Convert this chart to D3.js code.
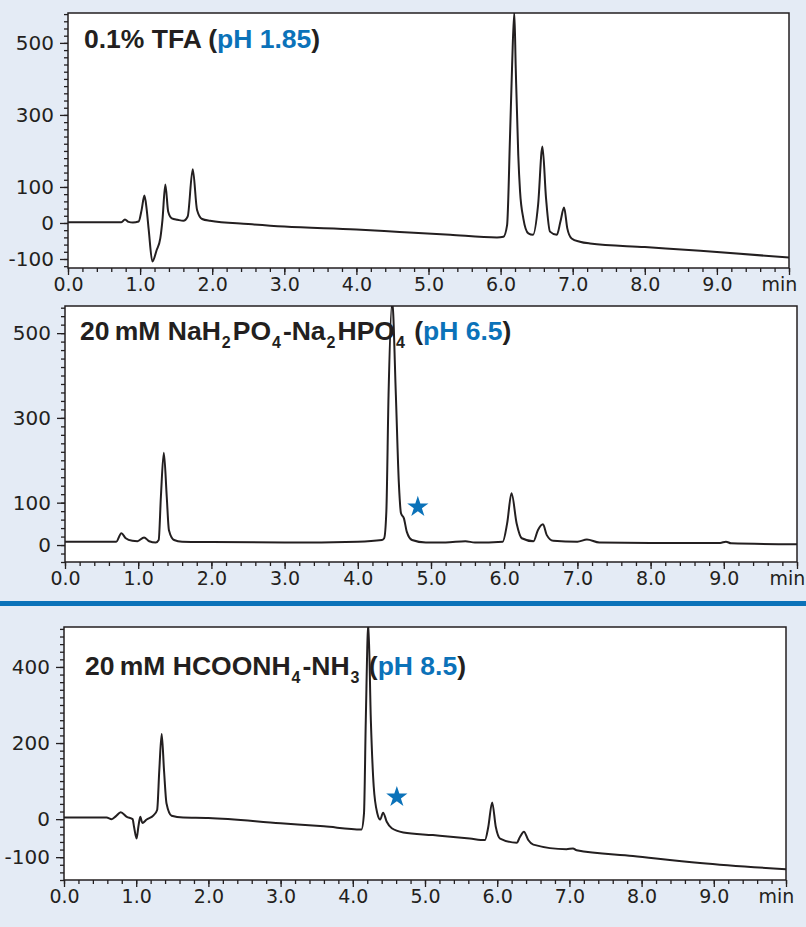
<!DOCTYPE html>
<html>
<head>
<meta charset="utf-8">
<script src="https://cdn.jsdelivr.net/npm/d3@7"></script>
<style>
  body { margin: 0; background: #e4ebf5; }
  svg { display: block; }
</style>
</head>
<body>
<div id="chart"></div>
<script>
// chromatogram traces (time in min, signal in mAU)
const tfaTime = [0, 0.5, 0.74, 0.79, 0.84, 0.90, 0.98, 1.02, 1.06, 1.09, 1.12, 1.17, 1.23, 1.28, 1.31, 1.35, 1.39, 1.44, 1.52, 1.60, 1.66, 1.73, 1.79, 1.86, 1.97, 2.5, 3.0, 4.0, 4.6, 5.3, 5.95, 6.04, 6.09, 6.13, 6.16, 6.19, 6.21, 6.245, 6.27, 6.315, 6.385, 6.45, 6.52, 6.58, 6.63, 6.685, 6.78, 6.83, 6.88, 6.925, 6.985, 7.10, 7.24, 8.0, 8.77, 10];
const tfaSignal = [2, 2, 2, 10, 3, 1, 4, 35, 76, 40, -20, -107, -75, -43, 8, 107, 31, 13, 9, 6, 18, 149, 36, 11, 6, -3, -10, -18, -25, -33, -40, -38, -6, 236, 440, 585, 430, 189, 87, 13, -29, -33, 50, 212, 69, -24, -33, 4, 43, -15, -43, -52, -57, -67, -77, -96];

const phosTime = [0, 0.70, 0.77, 0.83, 0.92, 0.99, 1.08, 1.15, 1.24, 1.28, 1.31, 1.35, 1.39, 1.42, 1.49, 1.6, 2.0, 3.0, 4.0, 4.33, 4.36, 4.39, 4.42, 4.47, 4.52, 4.56, 4.59, 4.63, 4.67, 4.74, 4.93, 5.2, 5.47, 5.6, 5.98, 6.04, 6.10, 6.17, 6.24, 6.40, 6.46, 6.53, 6.58, 6.67, 7.0, 7.13, 7.30, 8.0, 8.95, 9.03, 9.1, 10];
const phosSignal = [8, 8, 28, 16, 10, 9, 18, 9, 6, 12, 114, 218, 114, 35, 12, 8, 7, 6, 8, 12, 16, 79, 354, 575, 354, 149, 75, 63, 31, 12, 6, 6, 9, 6, 8, 51, 122, 51, 16, 9, 35, 49, 24, 10, 8, 13, 6, 5, 5, 8, 4, 2];

const formTime = [0, 0.59, 0.66, 0.72, 0.785, 0.87, 0.95, 0.97, 1.005, 1.03, 1.057, 1.085, 1.145, 1.24, 1.29, 1.32, 1.353, 1.385, 1.42, 1.49, 1.65, 2.0, 3.0, 3.6, 4.12, 4.155, 4.18, 4.215, 4.25, 4.29, 4.34, 4.38, 4.42, 4.47, 4.54, 4.70, 5.11, 5.62, 5.83, 5.877, 5.93, 5.98, 6.04, 6.27, 6.315, 6.37, 6.43, 6.50, 6.96, 7.05, 7.10, 7.88, 8.81, 10];
const formSignal = [4, 4, 0, 8, 18, 6, 0, -20, -51, -20, 6, -10, -1, 10, 24, 129, 224, 129, 41, 9, 4, 3, -11, -19, -27, 15, 260, 515, 260, 85, 15, -1, 17, -7, -24, -35, -42, -51, -55, -20, 44, -20, -51, -62, -47, -33, -55, -67, -79, -77, -82, -97, -115, -132];

// tick labels
const xTickLabels = ["0.0", "1.0", "2.0", "3.0", "4.0", "5.0", "6.0", "7.0", "8.0", "9.0", "min"];
const tfaYLabels = [500, 300, 100, 0, -100];
const phosYLabels = [500, 300, 100, 0];
const formYLabels = [400, 200, 0, -100];

// titles: [text, kind] where kind = "" normal, "sub" subscript, "ph" blue
const tfaTitle = [["0.1% TFA (", ""], ["pH 1.85", "ph"], [")", ""]];
const phosTitle = [["20\u2009mM NaH", ""], ["2", "sub"], ["PO", ""], ["4", "sub"], ["-Na", ""], ["2", "sub"], ["HPO", ""], ["4", "sub"], [" (", ""], ["pH 6.5", "ph"], [")", ""]];
const formTitle = [["20\u2009mM HCOONH", ""], ["4", "sub"], ["-NH", ""], ["3", "sub"], [" (", ""], ["pH 8.5", "ph"], [")", ""]];

// unknown-peak markers (time, signal)
const phosStar = [4.82, 90];
const formStar = [4.61, 58];

const width = 806, height = 927;
const ink = "#231f20", blue = "#0b72b9";
const tickFont = "'DejaVu Sans', sans-serif";

const panels = [
  {time: tfaTime, signal: tfaSignal, box: [68, 13, 789, 268], yDomain: [-125, 583], yLabels: tfaYLabels, title: tfaTitle, tx: 84, ty: 48, star: null},
  {time: phosTime, signal: phosSignal, box: [65, 306, 797, 562], yDomain: [-40, 564], yLabels: phosYLabels, title: phosTitle, tx: 80, ty: 340, star: phosStar},
  {time: formTime, signal: formSignal, box: [64, 627, 786, 880], yDomain: [-160, 505], yLabels: formYLabels, title: formTitle, tx: 85, ty: 675, star: formStar}
];

const svg = d3.select("#chart").append("svg")
    .attr("width", width)
    .attr("height", height)
    .attr("viewBox", [0, 0, width, height]);

svg.append("rect")
    .attr("width", width)
    .attr("height", height)
    .attr("fill", "#e4ebf5");

// blue divider between the acidic/neutral and basic runs
svg.append("rect")
    .attr("x", 0)
    .attr("y", 601)
    .attr("width", width)
    .attr("height", 5)
    .attr("fill", blue);

panels.forEach(function(p, i) {
    const [left, top, right, bottom] = p.box;
    const x = d3.scaleLinear().domain([0, 10]).range([left, right]);
    const y = d3.scaleLinear().domain(p.yDomain).range([bottom, top]);

    const g = svg.append("g");

    g.append("rect")
        .attr("x", left)
        .attr("y", top)
        .attr("width", right - left)
        .attr("height", bottom - top)
        .attr("fill", "#fff");

    g.append("clipPath")
        .attr("id", "clip" + i)
        .append("rect")
        .attr("x", left)
        .attr("y", top)
        .attr("width", right - left)
        .attr("height", bottom - top);

    // x axis: minor every 0.2 min, major every minute
    g.append("g")
        .attr("transform", `translate(0,${bottom})`)
        .call(d3.axisBottom(x).tickValues(d3.range(0, 51).map(d => d / 5)).tickSize(4).tickFormat(""))
        .call(a => a.select(".domain").remove());

    const xMajor = g.append("g")
        .attr("transform", `translate(0,${bottom})`)
        .call(d3.axisBottom(x).tickValues(d3.range(0, 11)).tickSize(7).tickPadding(3)
            .tickFormat(d => xTickLabels[d]))
        .call(a => a.select(".domain").remove())
        .attr("font-family", tickFont)
        .attr("font-size", 19);

    // the unit label sits left of the last tick
    xMajor.selectAll(".tick text").filter(d => d === 10).attr("dx", -10);

    // y axis: minor every 20, labelled majors
    const minor = d3.range(Math.ceil(p.yDomain[0] / 20) * 20, p.yDomain[1], 20);
    g.append("g")
        .attr("transform", `translate(${left},0)`)
        .call(d3.axisLeft(y).tickValues(minor).tickSize(4).tickFormat(""))
        .call(a => a.select(".domain").remove());

    g.append("g")
        .attr("transform", `translate(${left},0)`)
        .call(d3.axisLeft(y).tickValues(p.yLabels).tickSize(8).tickPadding(6).tickFormat(d => String(d)))
        .call(a => a.select(".domain").remove())
        .attr("font-family", tickFont)
        .attr("font-size", 20);

    g.selectAll(".tick line").attr("stroke", ink).attr("stroke-width", 1.3);
    g.selectAll(".tick text").attr("fill", ink);

    const line = d3.line()
        .x((d, j) => x(p.time[j]))
        .y(d => y(d))
        .curve(d3.curveMonotoneX);

    g.append("path")
        .datum(p.signal)
        .attr("clip-path", `url(#clip${i})`)
        .attr("fill", "none")
        .attr("stroke", ink)
        .attr("stroke-width", 2)
        .attr("stroke-linejoin", "round")
        .attr("d", line);

    // frame on top of the trace
    g.append("rect")
        .attr("x", left)
        .attr("y", top)
        .attr("width", right - left)
        .attr("height", bottom - top)
        .attr("fill", "none")
        .attr("stroke", ink)
        .attr("stroke-width", 1.5);

    const title = g.append("text")
        .attr("x", p.tx)
        .attr("y", p.ty)
        .attr("font-family", "'Liberation Sans', Arial, sans-serif")
        .attr("font-weight", "bold")
        .attr("font-size", 26.5)
        .attr("fill", ink);

    let shifted = false;
    p.title.forEach(function([txt, kind]) {
        const ts = title.append("tspan").text(txt);
        if (kind === "sub") {
            ts.attr("font-size", 16).attr("dx", 1).attr("dy", 8);
            shifted = true;
        } else if (shifted) {
            ts.attr("dx", 2).attr("dy", -8);
            shifted = false;
        }
        if (kind === "ph") ts.attr("fill", blue);
    });

    if (p.star) {
        g.append("path")
            .attr("transform", `translate(${x(p.star[0])},${y(p.star[1])})`)
            .attr("d", d3.symbol(d3.symbolStar, 140)())
            .attr("fill", blue);
    }
});
</script>
</body>
</html>
